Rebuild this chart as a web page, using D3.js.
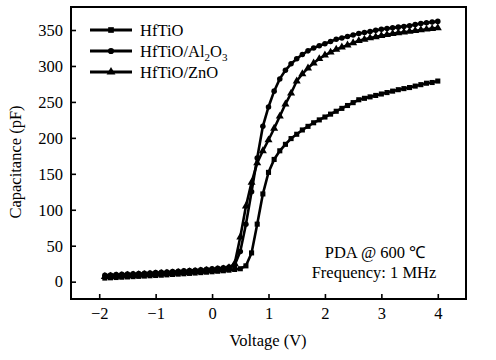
<!DOCTYPE html>
<html>
<head>
<meta charset="utf-8">
<script src="https://cdn.jsdelivr.net/npm/d3@7"></script>
<style>
  body { margin: 0; background: #fff; }
  text { font-family: "Liberation Serif", "Times New Roman", serif; fill: #000; }
</style>
</head>
<body>
<div id="chart"></div>
<script>
// voltage grid (V)
const voltage = [-1.9, -1.8, -1.7, -1.6, -1.5, -1.4, -1.3, -1.2, -1.1, -1.0,
  -0.9, -0.8, -0.7, -0.6, -0.5, -0.4, -0.3, -0.2, -0.1, 0.0,
  0.1, 0.2, 0.3, 0.4, 0.5, 0.6, 0.7, 0.8, 0.9, 1.0,
  1.1, 1.2, 1.3, 1.4, 1.5, 1.6, 1.7, 1.8, 1.9, 2.0,
  2.1, 2.2, 2.3, 2.4, 2.5, 2.6, 2.7, 2.8, 2.9, 3.0,
  3.1, 3.2, 3.3, 3.4, 3.5, 3.6, 3.7, 3.8, 3.9, 4.0];

// capacitance (pF)
const capHfTiO = [5, 5.4, 5.8, 6.2, 6.6, 7, 7.4, 7.8, 8.2, 8.6,
  9, 9.5, 10, 10.5, 11, 11.5, 12, 12.6, 13.2, 13.8,
  14.5, 15.2, 16, 17, 18, 22, 40, 80, 122, 152,
  170, 182, 191, 199, 205, 211, 216, 221, 225, 229,
  233, 237, 241, 245, 249, 253, 255, 257, 259, 261,
  263, 265, 267, 268.5, 270, 272, 274, 276, 277, 279];

const capAl2O3 = [9, 9.4, 9.8, 10.2, 10.6, 11, 11.4, 11.8, 12.2, 12.6,
  13, 13.5, 14, 14.5, 15, 15.5, 16, 16.6, 17.2, 17.8,
  18.5, 19.3, 20.5, 23, 42, 80, 125, 172, 216, 243,
  265, 282, 294, 303, 310, 316, 321, 325, 328, 331,
  334, 337, 339, 341, 343, 345, 346.5, 348, 349.5, 351,
  352, 353, 354, 355, 356, 357.5, 359, 360, 361, 362];

const capZnO = [7, 7.4, 7.8, 8.2, 8.6, 9, 9.4, 9.8, 10.2, 10.6,
  11, 11.5, 12, 12.5, 13, 13.5, 14, 14.6, 15.2, 15.8,
  16.5, 17.5, 19, 25, 62, 105, 138, 165, 182, 197,
  213, 230, 247, 262, 279, 289, 297, 304, 310, 315,
  319, 323, 326, 329, 332, 335, 337, 339, 340.5, 342,
  343.5, 345, 346, 347, 348, 349, 350, 351, 352, 353];

const xTicks = [-2, -1, 0, 1, 2, 3, 4];
const yTicks = [0, 50, 100, 150, 200, 250, 300, 350];

const series = [
  { name: "HfTiO", values: capHfTiO, symbol: d3.symbolSquare, size: 26 },
  { name: "HfTiO/Al2O3", values: capAl2O3, symbol: d3.symbolCircle, size: 24 },
  { name: "HfTiO/ZnO", values: capZnO, symbol: d3.symbolTriangle, size: 28 }
];

const W = 496, H = 360;
const plotL = 71, plotR = 466, plotT = 7, plotB = 299;

const svg = d3.select("#chart").append("svg")
  .attr("width", W).attr("height", H);

const x = d3.scaleLinear().domain([-2.5, 4.5]).range([plotL, plotR]);
const y = d3.scaleLinear().domain([-24.1, 382]).range([plotB, plotT]);

// axes with inward ticks
const xAxis = svg.append("g")
  .attr("transform", `translate(0,${plotB})`)
  .call(d3.axisBottom(x).tickValues(xTicks).tickFormat(d3.format("d"))
    .tickSizeInner(-5).tickSizeOuter(0).tickPadding(8));
const yAxis = svg.append("g")
  .attr("transform", `translate(${plotL},0)`)
  .call(d3.axisLeft(y).tickValues(yTicks).tickFormat(d3.format("d"))
    .tickSizeInner(-5).tickSizeOuter(0).tickPadding(8));

[xAxis, yAxis].forEach(a => {
  a.select(".domain").remove();
  a.selectAll("line").attr("stroke", "#000").attr("stroke-width", 1.6);
  a.selectAll("text").style("font-size", "16.5px");
  a.attr("font-family", null).attr("font-size", null);
});

// frame
svg.append("rect")
  .attr("x", plotL).attr("y", plotT)
  .attr("width", plotR - plotL).attr("height", plotB - plotT)
  .attr("fill", "none").attr("stroke", "#000").attr("stroke-width", 2);

// axis titles
svg.append("text")
  .attr("x", 268).attr("y", 346)
  .attr("text-anchor", "middle")
  .style("font-size", "16.5px")
  .text("Voltage (V)");

svg.append("text")
  .attr("transform", "translate(21,162) rotate(-90)")
  .attr("text-anchor", "middle")
  .style("font-size", "16.5px")
  .text("Capacitance (pF)");

// curves
const line = d3.line()
  .x((d, i) => x(voltage[i]))
  .y(d => y(d));

series.forEach(s => {
  svg.append("path")
    .datum(s.values)
    .attr("d", line)
    .attr("fill", "none")
    .attr("stroke", "#000")
    .attr("stroke-width", 2.6);

  svg.append("g").selectAll("path")
    .data(s.values)
    .join("path")
    .attr("transform", (d, i) => `translate(${x(voltage[i])},${y(d)})`)
    .attr("d", d3.symbol().type(s.symbol).size(s.size))
    .attr("fill", "#000");
});

// legend
const legend = svg.append("g");
series.forEach((s, i) => {
  const ly = 30 + i * 21;
  legend.append("line")
    .attr("x1", 90).attr("x2", 132)
    .attr("y1", ly).attr("y2", ly)
    .attr("stroke", "#000").attr("stroke-width", 2.8);
  legend.append("path")
    .attr("transform", `translate(111,${ly})`)
    .attr("d", d3.symbol().type(s.symbol).size(s.size + 6))
    .attr("fill", "#000");
  const t = legend.append("text")
    .attr("x", 140).attr("y", ly + 6)
    .style("font-size", "16.5px");
  if (s.name === "HfTiO/Al2O3") {
    t.append("tspan").text("HfTiO/Al");
    t.append("tspan").attr("dy", 4).style("font-size", "11px").text("2");
    t.append("tspan").attr("dy", -4).text("O");
    t.append("tspan").attr("dy", 4).style("font-size", "11px").text("3");
  } else {
    t.text(s.name);
  }
});

// annotation
svg.append("text")
  .attr("x", 375).attr("y", 258)
  .attr("text-anchor", "middle")
  .style("font-size", "16.5px")
  .text("PDA @ 600 ℃");
svg.append("text")
  .attr("x", 374).attr("y", 278)
  .attr("text-anchor", "middle")
  .style("font-size", "16.5px")
  .text("Frequency: 1 MHz");
</script>
</body>
</html>
